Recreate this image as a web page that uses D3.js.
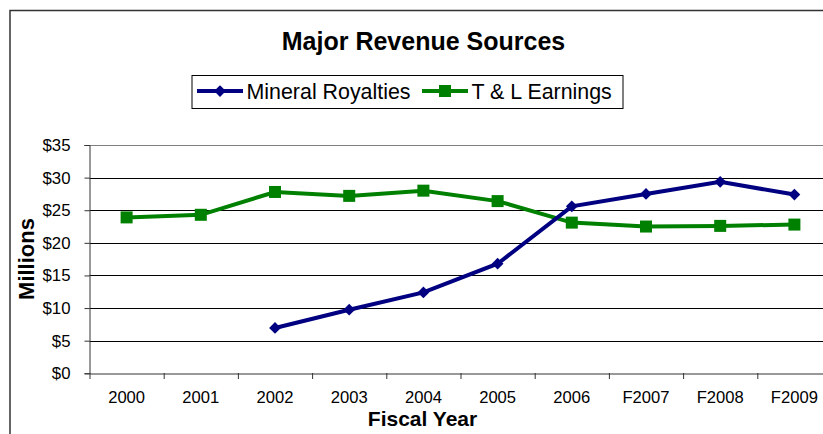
<!DOCTYPE html>
<html><head><meta charset="utf-8">
<script src="https://cdn.jsdelivr.net/npm/d3@7"></script>
<style>html,body{margin:0;padding:0;background:#fff;overflow:hidden}svg{display:block}</style>
</head><body>
<svg id="chart" width="823" height="434"></svg>
<script>
const categories = ["2000","2001","2002","2003","2004","2005","2006","F2007","F2008","F2009"];
const mineralRoyalties = [null,null,6.95,9.75,12.4,16.8,25.6,27.5,29.35,27.4];
const tlEarnings = [23.9,24.3,27.8,27.2,28.0,26.4,23.1,22.5,22.6,22.8];
const yTicks = [0,5,10,15,20,25,30,35];
const seriesNames = ["Mineral Royalties","T & L Earnings"];

(function(){
const svg = d3.select("#chart");
const font = "Arial, 'Liberation Sans', sans-serif";

// outer chart border
svg.append("path").attr("d","M10,434 V10.5 H823").attr("fill","none").attr("stroke","#333").attr("stroke-width",1.5);

const pL = 89.5, pR = 831.5, pT = 145, pB = 373.3;
const x = d3.scaleBand().domain(categories).range([pL,pR]);
const y = d3.scaleLinear().domain([0,35]).range([pB,pT]);

// gridlines
svg.append("g").selectAll("line").data(yTicks.filter(d=>d>0)).join("line")
  .attr("x1",pL).attr("x2",pR)
  .attr("y1",d=>Math.round(y(d))+0.5).attr("y2",d=>Math.round(y(d))+0.5)
  .attr("stroke",d=>d===35?"#808080":"#000").attr("stroke-width",1);

// y axis
const yAxis = svg.append("g").attr("transform",`translate(${pL},0)`)
  .call(d3.axisLeft(y).tickValues(yTicks).tickFormat(d=>"$"+d).tickSize(5).tickPadding(14));
yAxis.attr("font-size",null).attr("font-family",null);
yAxis.select(".domain").attr("stroke","#333");
yAxis.selectAll(".tick line").attr("stroke","#333");
yAxis.selectAll("text").attr("font-family",font).attr("font-size",16.8).attr("fill","#000");

// x axis
const xAxis = svg.append("g").attr("transform",`translate(0,${Math.round(pB)+0.5})`)
  .call(d3.axisBottom(x).tickSize(0).tickPadding(18));
xAxis.attr("font-size",null).attr("font-family",null);
xAxis.select(".domain").attr("stroke","#333");
xAxis.selectAll("text").attr("font-family",font).attr("font-size",16.6).attr("fill","#000");
// category boundary ticks
svg.append("g").selectAll("line").data(categories).join("line")
  .attr("x1",d=>x(d)+0.5).attr("x2",d=>x(d)+0.5)
  .attr("y1",Math.round(pB)).attr("y2",Math.round(pB)+6)
  .attr("stroke","#333");

const cx = d => x(d)+x.bandwidth()/2;

// lines
const line = d3.line().defined(d=>d[1]!=null).x(d=>cx(d[0])).y(d=>y(d[1]));
const s1 = categories.map((c,i)=>[c,mineralRoyalties[i]]);
const s2 = categories.map((c,i)=>[c,tlEarnings[i]]);
svg.append("path").datum(s2).attr("d",line).attr("fill","none").attr("stroke","#008000").attr("stroke-width",4);
svg.append("path").datum(s1).attr("d",line).attr("fill","none").attr("stroke","#000080").attr("stroke-width",4);

const diamond = d3.symbol().type(d3.symbolDiamond2).size(88);
const sq = 12;
svg.append("g").selectAll("rect").data(s2.filter(d=>d[1]!=null)).join("rect")
  .attr("x",d=>cx(d[0])-sq/2).attr("y",d=>y(d[1])-sq/2).attr("width",sq).attr("height",sq).attr("fill","#008000");
svg.append("g").selectAll("path").data(s1.filter(d=>d[1]!=null)).join("path")
  .attr("d",diamond).attr("transform",d=>`translate(${cx(d[0])},${y(d[1])})`).attr("fill","#000080");

// title
svg.append("text").attr("x",423.5).attr("y",50).attr("text-anchor","middle")
  .attr("font-family",font).attr("font-size",25).attr("font-weight","bold").text("Major Revenue Sources");

// axis titles
svg.append("text").attr("x",422.5).attr("y",426).attr("text-anchor","middle")
  .attr("font-family",font).attr("font-size",21).attr("font-weight","bold").text("Fiscal Year");
svg.append("text").attr("transform","translate(34,259) rotate(-90)").attr("text-anchor","middle")
  .attr("font-family",font).attr("font-size",22).attr("font-weight","bold").text("Millions");

// legend
const lg = svg.append("g");
lg.append("rect").attr("x",192).attr("y",75.5).attr("width",431).attr("height",33)
  .attr("fill","#fff").attr("stroke","#000").attr("stroke-width",1);
const ly = 91;
lg.append("line").attr("x1",197).attr("x2",243).attr("y1",ly).attr("y2",ly).attr("stroke","#000080").attr("stroke-width",4);
lg.append("path").attr("d",diamond).attr("transform",`translate(220,${ly})`).attr("fill","#000080");
lg.append("text").attr("x",246.5).attr("y",99.3).attr("font-family",font).attr("font-size",21.4).text(seriesNames[0]);
lg.append("line").attr("x1",422).attr("x2",468).attr("y1",ly).attr("y2",ly).attr("stroke","#008000").attr("stroke-width",4);
lg.append("rect").attr("x",445-6).attr("y",ly-6).attr("width",12).attr("height",12).attr("fill","#008000");
lg.append("text").attr("x",471.5).attr("y",99.3).attr("font-family",font).attr("font-size",21.4).text(seriesNames[1]);
})();
</script>
</body></html>
